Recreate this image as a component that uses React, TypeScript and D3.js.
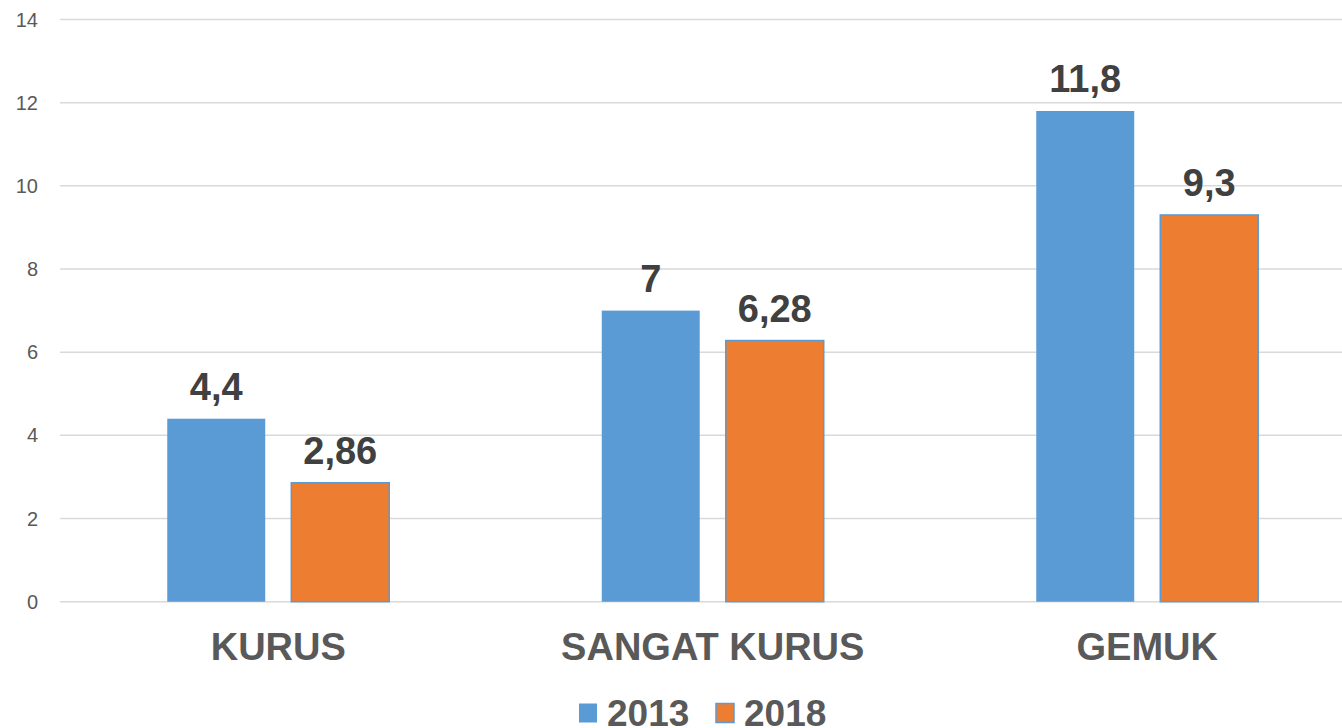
import React from "react";
import * as d3 from "d3";

const categories = ["KURUS", "SANGAT KURUS", "GEMUK"];
const seriesNames = ["2013", "2018"];
const values2013 = [4.4, 7, 11.8];
const values2018 = [2.86, 6.28, 9.3];
const valueLabels2013 = ["4,4", "7", "11,8"];
const valueLabels2018 = ["2,86", "6,28", "9,3"];
const yTicks = [0, 2, 4, 6, 8, 10, 12, 14];

const W = 1342;
const H = 728;
const BLUE = "#5B9BD5";
const ORANGE = "#ED7D31";
const FONT = "'Liberation Sans', Arial, sans-serif";

export default function App() {
  const y = d3.scaleLinear().domain([0, 14]).range([601.7, 19.5]);
  const x0 = d3.scaleBand().domain(categories).range([61, 1364.5]).paddingInner(0).paddingOuter(0);
  const groupW = 222;
  const x1 = d3.scaleBand().domain(seriesNames).range([0, groupW]).paddingInner(0.21).paddingOuter(0);
  const groupOffset = (x0.bandwidth() - groupW) / 2;
  const series = [
    { name: "2013", values: values2013, labels: valueLabels2013, fill: BLUE },
    { name: "2018", values: values2018, labels: valueLabels2018, fill: ORANGE },
  ];

  const legendItems = [
    { name: "2013", fill: BLUE, sx: 579, tx: 607 },
    { name: "2018", fill: ORANGE, sx: 716, tx: 744 },
  ];

  return (
    <svg width={W} height={H} style={{ position: "absolute", left: 0, top: 0, background: "#fff" }}>
      <rect x={0} y={0} width={W} height={H} fill="#fff" />
      {yTicks.map((t) => (
        <g key={t}>
          <line x1={60} x2={W} y1={y(t)} y2={y(t)} stroke="#D9D9D9" strokeWidth={1.5} />
          <text x={38} y={y(t)} dy="0.35em" textAnchor="end" fontFamily={FONT} fontSize={20} fill="#595959">
            {t}
          </text>
        </g>
      ))}
      {series.map((s) =>
        categories.map((c, i) => {
          const bx = (x0(c) as number) + groupOffset + (x1(s.name) as number);
          const bw = x1.bandwidth();
          const top = y(s.values[i]);
          return (
            <g key={s.name + c}>
              <rect
                x={bx}
                y={top}
                width={bw}
                height={y(0) - top}
                fill={s.fill}
                stroke={s.name === "2018" ? BLUE : "none"}
                strokeWidth={1.5}
              />
              <text
                x={bx + bw / 2}
                y={top - 19}
                textAnchor="middle"
                fontFamily={FONT}
                fontWeight="bold"
                fontSize={38}
                fill="#404040"
              >
                {s.labels[i]}
              </text>
            </g>
          );
        })
      )}
      {categories.map((c) => (
        <text
          key={c}
          x={(x0(c) as number) + x0.bandwidth() / 2}
          y={660}
          textAnchor="middle"
          fontFamily={FONT}
          fontWeight="bold"
          fontSize={38}
          fill="#595959"
        >
          {c}
        </text>
      ))}
      {legendItems.map((l) => (
        <g key={l.name}>
          <rect
            x={l.sx}
            y={703.5}
            width={18}
            height={19}
            fill={l.fill}
            stroke={l.name === "2018" ? BLUE : "none"}
            strokeWidth={1.5}
          />
          <text x={l.tx} y={726} fontFamily={FONT} fontWeight="bold" fontSize={37} fill="#595959">
            {l.name}
          </text>
        </g>
      ))}
    </svg>
  );
}
